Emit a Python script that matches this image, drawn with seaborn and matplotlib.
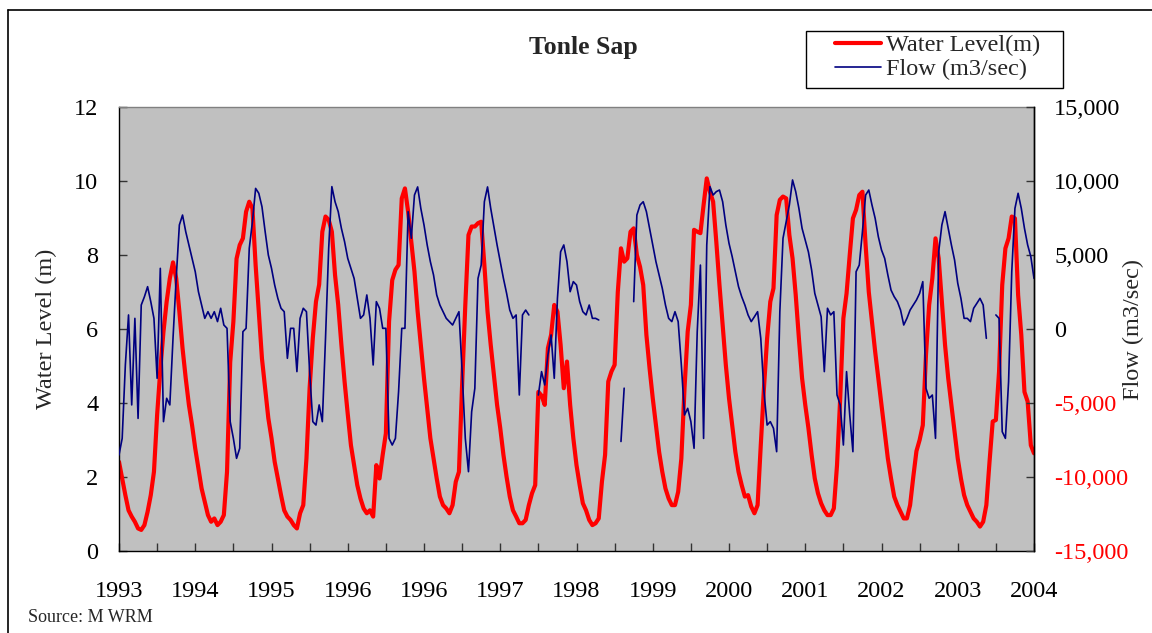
import numpy as np
import pandas as pd
import matplotlib
matplotlib.use("Agg")
import matplotlib.pyplot as plt
import seaborn as sns
from matplotlib.lines import Line2D
from matplotlib.patches import Rectangle

# Tonle Sap water level and flow, semi-monthly readings (24 per year), 1993-2004
year_labels = ["1993", "1994", "1995", "1996", "1996", "1997", "1998",
               "1999", "2000", "2001", "2002", "2003", "2004"]

water_level = [
    2.41, 1.96, 1.51, 1.10, 0.93, 0.79, 0.61, 0.57, 0.70, 1.06, 1.51, 2.14,
    3.68, 4.90, 5.93, 6.74, 7.37, 7.80, 7.37, 6.47, 5.48, 4.67, 3.95, 3.40,
    2.77, 2.23, 1.69, 1.33, 0.97, 0.79, 0.88, 0.70, 0.79, 0.97, 2.14, 5.10,
    6.20, 7.90, 8.27, 8.45, 9.17, 9.44, 9.26, 7.73, 6.47, 5.20, 4.40, 3.59,
    3.05, 2.41, 1.96, 1.51, 1.10, 0.93, 0.84, 0.70, 0.61, 1.02, 1.24, 2.50,
    4.40, 5.75, 6.74, 7.20, 8.63, 9.04, 8.95, 8.63, 7.46, 6.65, 5.57, 4.58,
    3.70, 2.86, 2.32, 1.78, 1.42, 1.15, 1.02, 1.10, 0.93, 2.32, 1.96, 2.60,
    3.18, 6.20, 7.32, 7.60, 7.73, 9.53, 9.80, 9.17, 8.36, 7.55, 6.47, 5.57,
    4.67, 3.86, 3.05, 2.50, 1.96, 1.47, 1.24, 1.15, 1.02, 1.24, 1.87, 2.14,
    4.50, 6.65, 8.54, 8.77, 8.77, 8.86, 8.90, 7.73, 6.47, 5.57, 4.76, 3.95,
    3.32, 2.60, 2.00, 1.47, 1.10, 0.93, 0.75, 0.75, 0.84, 1.24, 1.56, 1.78,
    4.30, 4.20, 3.95, 5.48, 5.84, 6.65, 6.47, 5.57, 4.40, 5.12, 3.95, 3.05,
    2.32, 1.78, 1.29, 1.10, 0.84, 0.70, 0.75, 0.88, 1.87, 2.60, 4.58, 4.85,
    5.03, 7.00, 8.18, 7.82, 7.91, 8.63, 8.72, 8.00, 7.68, 7.19, 5.84, 4.94,
    4.13, 3.40, 2.68, 2.14, 1.69, 1.42, 1.24, 1.24, 1.60, 2.50, 4.40, 5.93,
    6.65, 8.68, 8.63, 8.59, 9.35, 10.07, 9.71, 9.44, 8.36, 7.19, 6.11, 5.03,
    4.13, 3.40, 2.68, 2.14, 1.78, 1.47, 1.51, 1.20, 1.02, 1.24, 2.86, 4.40,
    5.75, 6.74, 7.10, 9.08, 9.49, 9.58, 9.53, 8.54, 7.91, 6.92, 5.75, 4.67,
    3.95, 3.32, 2.60, 1.96, 1.56, 1.29, 1.10, 0.97, 0.97, 1.15, 2.32, 4.13,
    6.29, 6.96, 8.00, 8.99, 9.22, 9.62, 9.71, 8.27, 7.00, 6.20, 5.39, 4.67,
    3.95, 3.23, 2.50, 1.96, 1.47, 1.24, 1.06, 0.88, 0.88, 1.24, 2.00, 2.70,
    3.00, 3.40, 5.30, 6.65, 7.37, 8.45, 7.91, 6.74, 5.57, 4.67, 3.95, 3.23,
    2.50, 1.96, 1.51, 1.24, 1.06, 0.88, 0.79, 0.66, 0.79, 1.24, 2.41, 3.50,
    3.54, 4.85, 7.19, 8.18, 8.45, 9.04, 8.99, 6.92, 5.84, 4.30, 4.04, 2.86,
    2.64,
]

nan = np.nan
flow = [
    -8510, -7390, -2430, 950, -5130, 720, -6040, 1620, 2180, 2860, 1850, 720,
    -3330, 4100, -6260, -4680, -5130, -630, 3420, 7030, 7700, 6580, 5680, 4770,
    3870, 2520, 1620, 720, 1170, 720, 1170, 500, 1400, 270, 45, -6260,
    -7390, -8740, -8060, -180, 45, 5450, 7250, 9500, 9170, 8260, 6580, 5000,
    4100, 2970, 2070, 1400, 1170, -1980, 45, 45, -2880, 720, 1400, 1170,
    -2880, -6260, -6490, -5130, -6260, -630, 5450, 9620, 8600, 7930, 6800, 5900,
    4770, 4100, 3420, 2070, 720, 950, 2300, 720, -2430, 1850, 1400, 45,
    45, -7390, -7840, -7390, -4230, 45, 45, 7930, 6130, 9050, 9600, 8150,
    7030, 5680, 4550, 3650, 2300, 1620, 1170, 720, 500, 270, 720, 1170,
    -2880, -7390, -9640, -5590, -4010, 3420, 4320, 8600, 9600, 8150, 6910, 5680,
    4550, 3420, 2410, 1280, 720, 950, -4460, 950, 1280, 950, nan, nan,
    -4460, -2880, -3780, -1760, -400, -3330, 2070, 5220, 5680, 4550, 2520, 3200,
    2970, 1850, 1170, 950, 1620, 720, 720, 610, nan, nan, nan, nan,
    nan, nan, -7600, -4000, nan, nan, 1850, 7700, 8380, 8600, 7930, 6800,
    5680, 4550, 3650, 2750, 1620, 720, 500, 1170, 500, -2430, -5810, -5360,
    -6260, -8060, -180, 4320, -7390, 5680, 9620, 9050, 9280, 9390, 8600, 7030,
    5790, 4890, 3870, 2860, 2180, 1620, 950, 500, 830, 1170, -630, -4230,
    -6490, -6260, -6710, -8290, 1170, 6130, 7250, 8380, 10070, 9280, 8150, 6800,
    6000, 5200, 3990, 2410, 1620, 830, -2880, 1400, 950, 1170, -4460, -5130,
    -7840, -2880, -5810, -8290, 3870, 4320, 6580, 9050, 9390, 8380, 7480, 6240,
    5340, 4770, 3650, 2630, 2180, 1850, 1280, 270, 720, 1280, 1620, 1960,
    2410, 3200, -4010, -4680, -4460, -7390, 5220, 7030, 7930, 6800, 5680, 4660,
    3090, 2070, 720, 720, 500, 1400, 1730, 2070, 1620, -630, nan, nan,
    950, 720, -6940, -7390, -3560, 3870, 8150, 9170, 8150, 6800, 5680, 4890,
    3420,
]

level_ticks = [0, 2, 4, 6, 8, 10, 12]
flow_ticks = [-15000, -10000, -5000, 0, 5000, 10000, 15000]

RED = "#FF0000"
NAVY = "#000080"
FS = 17.5

sns.set_theme(style="white")
plt.rcParams["font.family"] = ["Liberation Serif", "DejaVu Serif"]

n = len(water_level)
t = np.arange(n) / 24.0  # one unit per labelled year, 24 readings each
df = pd.DataFrame({"t": t, "level": water_level, "flow": flow})
df["seg"] = df["flow"].isna().cumsum()
flow_df = df.dropna(subset=["flow"])

W, H = 1152, 633
fig = plt.figure(figsize=(W / 100, H / 100), dpi=100)
fig.patch.set_facecolor("white")
ax = fig.add_axes([119 / W, 1 - 551 / H, 915 / W, 444 / H])
ax.set_facecolor("#C0C0C0")

sns.lineplot(data=df, x="t", y="level", ax=ax, color=RED, linewidth=3.0,
             estimator=None, legend=False)
ax2 = ax.twinx()
sns.lineplot(data=flow_df, x="t", y="flow", units="seg", estimator=None,
             ax=ax2, color=NAVY, linewidth=1.2, legend=False)

ax.set_xlim(0, 12)
ax.set_ylim(0, 12)
ax2.set_ylim(-15000, 15000)

# x axis: a tick every half year, a label every year
xt = np.arange(0, 12.01, 0.5)
xl = []
for k in range(len(xt)):
    xl.append(year_labels[k // 2] if k % 2 == 0 else "")
ax.set_xticks(xt)
ax.set_xticklabels(xl, fontsize=FS)
ax.set_yticks(level_ticks)
ax.set_yticklabels([str(v) for v in level_ticks], fontsize=FS)
ax2.set_yticks(flow_ticks)
ax2.set_yticklabels([f"{v:,}" for v in flow_ticks], fontsize=FS)
for lab, v in zip(ax2.get_yticklabels(), flow_ticks):
    lab.set_color(RED if v < 0 else "black")

ax.tick_params(axis="x", bottom=True, direction="in", length=6, width=1,
               color="#333333", pad=21.5, labelcolor="black")
ax.tick_params(axis="y", left=True, direction="in", length=6, width=1,
               color="#333333", pad=15, labelcolor="black")
ax2.tick_params(axis="y", right=True, direction="in", length=6, width=1,
                color="#333333", pad=14.5)

ax.set_xlabel("")
ax.set_ylabel("Water Level (m)", fontsize=FS)
ax.yaxis.label.set_va("center")
ax.yaxis.set_label_coords((46 - 119) / 915, 0.5)
ax2.set_ylabel("Flow (m3/sec)", fontsize=FS, rotation=90)
ax2.yaxis.label.set_va("center")
ax2.yaxis.set_label_coords((1133 - 119) / 915, 0.5)

ax.grid(False)
ax2.grid(False)
for s in ["left", "bottom", "right"]:
    ax.spines[s].set_color("black")
    ax.spines[s].set_linewidth(1.0)
ax.spines["top"].set_color("#808080")
ax.spines["top"].set_linewidth(1.0)
for s in ["left", "bottom", "top"]:
    ax2.spines[s].set_visible(False)
ax2.spines["right"].set_color("black")
ax2.spines["right"].set_linewidth(1.0)

ax.set_title("Tonle Sap", fontsize=18.5, fontweight="bold", pad=0,
             x=(583 - 119) / 915, y=(551 - 48) / 444, va="center")

# legend box with the two series
handles = [Line2D([], [], color=RED, linewidth=3.0),
           Line2D([], [], color=NAVY, linewidth=1.2)]
fig.legend(handles, ["Water Level(m)", "Flow (m3/sec)"], loc="upper left",
           bbox_to_anchor=(835 / W, 1 - 34 / H), frameon=False, fontsize=FS,
           handlelength=1.9, handletextpad=0.2, labelspacing=0.1,
           borderpad=0, borderaxespad=0)
fig.add_artist(Rectangle((806 / W, 1 - 88 / H), (1063 - 806) / W, 57 / H,
                         transform=fig.transFigure, fill=False,
                         edgecolor="black", linewidth=1.0))

# outer frame of the figure
fig.add_artist(Line2D([8 / W, 8 / W], [0, 1 - 10 / H], transform=fig.transFigure,
                      color="black", linewidth=1.2))
fig.add_artist(Line2D([8 / W, 1], [1 - 10 / H, 1 - 10 / H],
                      transform=fig.transFigure, color="black", linewidth=1.2))

fig.text(28 / W, 1 - 617 / H, "Source: M WRM", fontsize=13, ha="left",
         va="center")

fig.savefig("out.png", dpi=100)
